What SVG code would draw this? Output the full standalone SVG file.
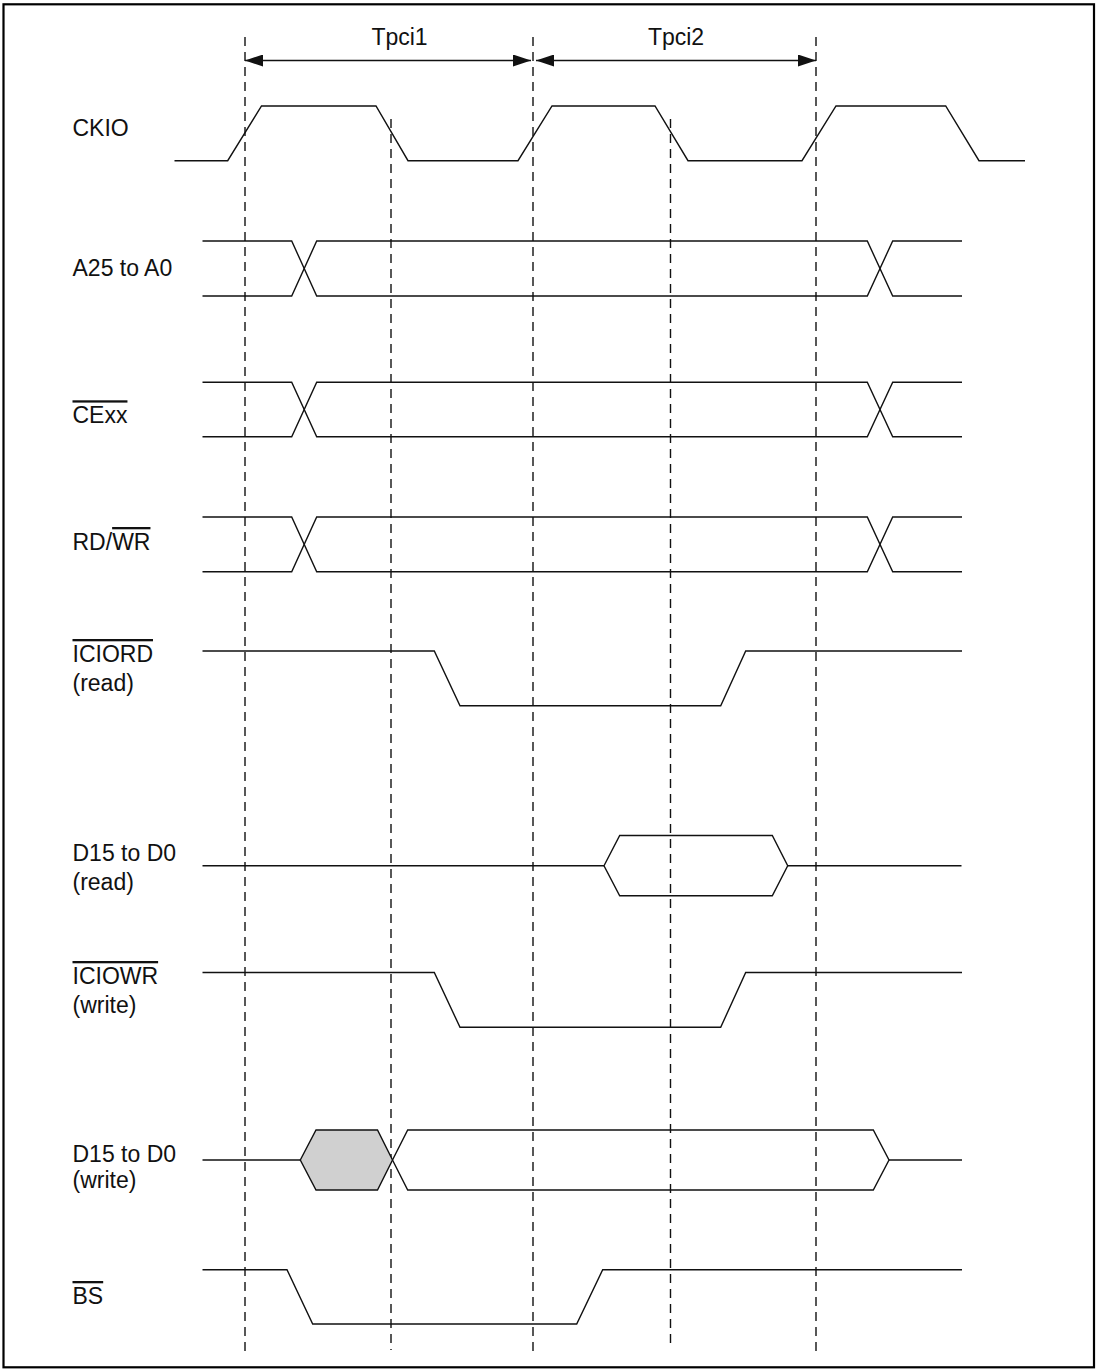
<svg xmlns="http://www.w3.org/2000/svg" width="1102" height="1369" viewBox="0 0 1102 1369">
<style>
.sig{fill:none;stroke:#111;stroke-width:1.4;stroke-linejoin:miter}
.guide{fill:none;stroke:#111;stroke-width:1.4;stroke-dasharray:9 6}
.dim{fill:none;stroke:#111;stroke-width:1.4}
.lbl{font-family:"Liberation Sans",Arial,sans-serif;font-size:23px;fill:#111}
.ov{text-decoration:overline}
.frame{fill:none;stroke:#000;stroke-width:2.2}
</style>
<defs>
<marker id="ah" viewBox="0 0 18 12" refX="18" refY="6" markerWidth="18" markerHeight="12" markerUnits="userSpaceOnUse" orient="auto-start-reverse">
<path d="M0,0 L18,6 L0,12 z" fill="#111"/>
</marker>
</defs>
<rect width="1102" height="1369" fill="#fff"/>
<rect class="frame" x="3.5" y="4.3" width="1090.5" height="1363"/>

<g id="connectors">
<line class="guide" x1="245" y1="37" x2="245" y2="1352"/>
<line class="guide" x1="391" y1="119" x2="391" y2="1350"/>
<line class="guide" x1="533" y1="37" x2="533" y2="1352"/>
<line class="guide" x1="670.5" y1="119" x2="670.5" y2="1348"/>
<line class="guide" x1="816" y1="37" x2="816" y2="1352"/>
<line class="dim" x1="245" y1="60.5" x2="531" y2="60.5" marker-start="url(#ah)" marker-end="url(#ah)"/>
<line class="dim" x1="536" y1="60.5" x2="816" y2="60.5" marker-start="url(#ah)" marker-end="url(#ah)"/>
</g>

<g id="tpci1"><text class="lbl" x="399.5" y="44.5" text-anchor="middle">Tpci1</text></g>
<g id="tpci2"><text class="lbl" x="676" y="44.5" text-anchor="middle">Tpci2</text></g>

<g id="ckio">
<text class="lbl" x="72.5" y="136">CKIO</text>
<polyline class="sig" points="174.5,160.7 227.7,160.7 261.5,106 376,106 408,160.7 518,160.7 552,106 655,106 688,160.7 802,160.7 836,106 945.7,106 979,160.7 1025,160.7"/>
</g>

<g id="a25">
<text class="lbl" x="72.5" y="276">A25 to A0</text>
<polyline class="sig" points="202.5,241 291.7,241 316.7,296 867.3,296 892.7,241 962,241"/>
<polyline class="sig" points="202.5,296 291.7,296 316.7,241 867.3,241 892.7,296 962,296"/>
</g>

<g id="cexx">
<text class="lbl" x="72.5" y="423.3"><tspan class="ov">CExx</tspan></text>
<polyline class="sig" points="202.5,382.3 291.7,382.3 316.7,436.7 867.3,436.7 892.7,382.3 962,382.3"/>
<polyline class="sig" points="202.5,436.7 291.7,436.7 316.7,382.3 867.3,382.3 892.7,436.7 962,436.7"/>
</g>

<g id="rdwr">
<text class="lbl" x="72.5" y="550">RD/<tspan class="ov">WR</tspan></text>
<polyline class="sig" points="202.5,517 291.7,517 316.7,571.7 867.3,571.7 892.7,517 962,517"/>
<polyline class="sig" points="202.5,571.7 291.7,571.7 316.7,517 867.3,517 892.7,571.7 962,571.7"/>
</g>

<g id="iciord">
<text class="lbl" x="72.5" y="662"><tspan class="ov">ICIORD</tspan></text>
<text class="lbl" x="72.5" y="691">(read)</text>
<polyline class="sig" points="202.5,651 434.3,651 460,705.7 720.7,705.7 745.7,651 962,651"/>
</g>

<g id="d15read">
<text class="lbl" x="72.5" y="860.7">D15 to D0</text>
<text class="lbl" x="72.5" y="889.5">(read)</text>
<polyline class="sig" points="202.5,865.7 604,865.7"/>
<polygon class="sig" points="604,865.7 619.7,835.5 772.3,835.5 787.7,865.7 772.3,895.7 619.7,895.7"/>
<polyline class="sig" points="787.7,865.7 961.5,865.7"/>
</g>

<g id="iciowr">
<text class="lbl" x="72.5" y="984"><tspan class="ov">ICIOWR</tspan></text>
<text class="lbl" x="72.5" y="1013">(write)</text>
<polyline class="sig" points="202.5,972.5 434.3,972.5 460,1027.3 720.7,1027.3 745.7,972.5 962,972.5"/>
</g>

<g id="d15write">
<text class="lbl" x="72.5" y="1162">D15 to D0</text>
<text class="lbl" x="72.5" y="1188">(write)</text>
<polyline class="sig" points="202.5,1160 300.3,1160"/>
<polygon points="300.3,1160 316,1130 377.5,1130 392.5,1160 377.5,1190 316,1190" fill="#d0d0d0" stroke="#111" stroke-width="1.4"/>
<polyline class="sig" points="392.5,1160 407.7,1130 873.3,1130 889,1160 873.3,1190 407.7,1190 392.5,1160"/>
<polyline class="sig" points="889,1160 962,1160"/>
</g>

<g id="bs">
<text class="lbl" x="72.5" y="1304"><tspan class="ov">BS</tspan></text>
<polyline class="sig" points="202.5,1269.7 287,1269.7 312.7,1324 576.7,1324 602.7,1269.7 962,1269.7"/>
</g>
</svg>
